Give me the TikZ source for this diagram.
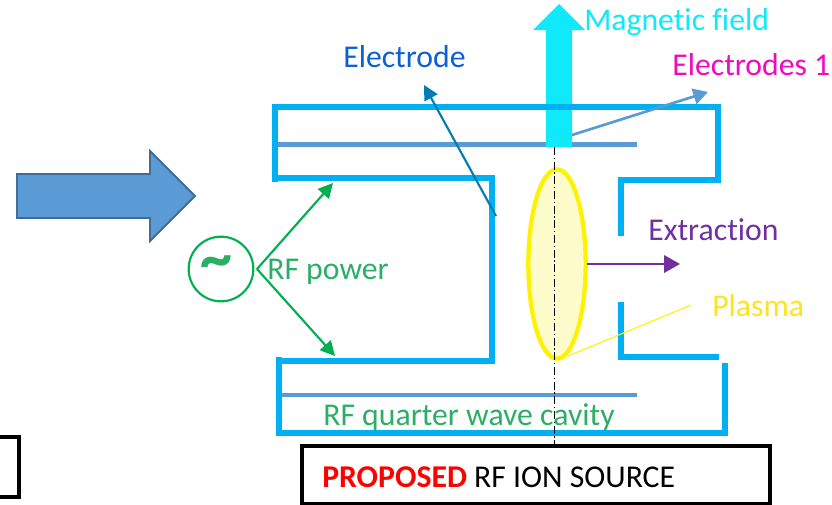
\documentclass[tikz,border=0pt]{standalone}
\usepackage{fontspec}
\setmainfont[Ligatures=NoCommon]{Carlito}
\usetikzlibrary{arrows.meta,shapes.geometric}
\definecolor{wallblue}{HTML}{00B0F0}
\definecolor{plateblue}{HTML}{5B9BD5}
\definecolor{fieldcyan}{HTML}{0FE9FA}
\definecolor{rfgreen}{HTML}{00B050}
\definecolor{labelgreen}{HTML}{2BAE66}
\definecolor{extractpurple}{HTML}{7030A0}
\definecolor{electrodeblue}{HTML}{0B5FD8}
\definecolor{electrodepink}{HTML}{F00ABF}
\definecolor{plasmayellow}{HTML}{FFE31F}
\tikzset{
  wall/.style={draw=wallblue, line width=3.8pt},
  plate/.style={draw=plateblue, line width=3.2pt},
  lbl/.style={inner sep=0pt, font=\fontsize{23.8}{26}\selectfont},
  rfarrow/.style={-{Triangle[length=11pt,width=11pt]}, draw=rfgreen, line width=1.6pt}
}
\begin{document}
\begin{tikzpicture}[x=0.75pt,y=-0.75pt]
  \useasboundingbox (0,0) rectangle (832,504);

  % Big arrow
  \draw[fill=plateblue, draw=plateblue!70!black, line width=1.4pt]
    (17,174) -- (150,174) -- (150,151) -- (195,196) -- (150,241) -- (150,218) -- (17,218) -- cycle;

  % Plates
  \draw[plate] (278,144.5) -- (637,144.5);
  \draw[plate] (280,395) -- (637,395);

  % Magnetic field arrow
  \fill[fieldcyan] (546,147) -- (546,30) -- (533,30) -- (559,4) -- (585,30) -- (572,30) -- (572,147) -- cycle;

  % Cavity
  \draw[wall] (275,182) -- (275,107) -- (718,107) -- (718,180) -- (621,180) -- (621,236);
  \draw[wall] (278,178) -- (492,178) -- (492,361) -- (278,361);
  \draw[wall] (279,357) -- (279,433) -- (725,433) -- (725,363);
  \draw[wall] (621,302) -- (621,357) -- (719,357);

  % Nodes
  \node[ellipse, draw=yellow, fill=yellow!20, line width=3.2pt, minimum width=43pt, minimum height=142pt, inner sep=0pt] (plasma) at (557,264) {};
  \node[circle, draw=rfgreen, line width=1.6pt, minimum size=48.5pt, inner sep=0pt] (source) at (221,269) {};
  \node[inner sep=0pt, text=labelgreen, font=\fontsize{48}{48}\selectfont\bfseries] (tilde) at (216,268) {\char`\~};

  \node[lbl, text=labelgreen, anchor=west] (rfpower) at (267,272) {RF power};
  \node[lbl, text=labelgreen, anchor=west] (cavity) at (323,417) {RF quarter wave cavity};
  \node[lbl, text=electrodeblue, anchor=west] (electrode) at (343,57) {Electrode};
  \node[lbl, text=fieldcyan, anchor=west] (field) at (584,22) {Magnetic field};
  \node[lbl, text=electrodepink, anchor=west] (electrodes) at (672,65) {Electrodes 1};
  \node[lbl, text=extractpurple, anchor=west] (extraction) at (648,230) {Extraction};
  \node[lbl, text=plasmayellow, anchor=west] (plasmalabel) at (712,306) {Plasma};

  % Title boxes
  \node[draw=black, line width=3pt, minimum width=351pt, minimum height=43.5pt, inner sep=0pt] (title) at (535.5,475) {};
  \node[lbl, anchor=west] (titletext) at (322,477) {\textcolor{red}{\textbf{PROPOSED}} RF ION SOURCE};
  \node[draw=black, line width=3pt, minimum width=30pt, minimum height=45pt, inner sep=0pt] (oldtitle) at (-1,467) {};

  \coordinate (rfout) at (257,269);
  \coordinate (rftop) at (333,183);
  \coordinate (rfbot) at (335,356);
  \coordinate (elfoot) at (496,216);
  \coordinate (eltip) at (424,85);
  \coordinate (elonefoot) at (572,135);
  \coordinate (elonetip) at (708,92);
  \coordinate (extractout) at (587,264);
  \coordinate (extracttip) at (680,264);
  \coordinate (plasmafoot) at (568,356);
  \coordinate (plasmaend) at (691,305);
  \coordinate (axistop) at (554,147);
  \coordinate (axisbot) at (554,445);

  % Arrows
  \draw[rfarrow] (rfout) -- (rftop);
  \draw[rfarrow] (rfout) -- (rfbot);
  \draw[-{Triangle[length=11pt,width=11pt]}, draw=blue!30!cyan!70!black, line width=1.6pt] (elfoot) -- (eltip);
  \draw[-{Triangle[length=11pt,width=12pt]}, draw=plateblue, line width=2pt] (elonefoot) -- (elonetip);
  \draw[-{Triangle[length=12pt,width=13pt]}, draw=extractpurple, line width=2pt] (extractout) -- (extracttip);
  \draw[draw=yellow, line width=0.8pt] (plasmafoot) -- (plasmaend);
  \draw[black, line width=0.6pt, dash pattern=on 6pt off 2pt on 1pt off 2pt] (axistop) -- (axisbot);
\end{tikzpicture}
\end{document}
